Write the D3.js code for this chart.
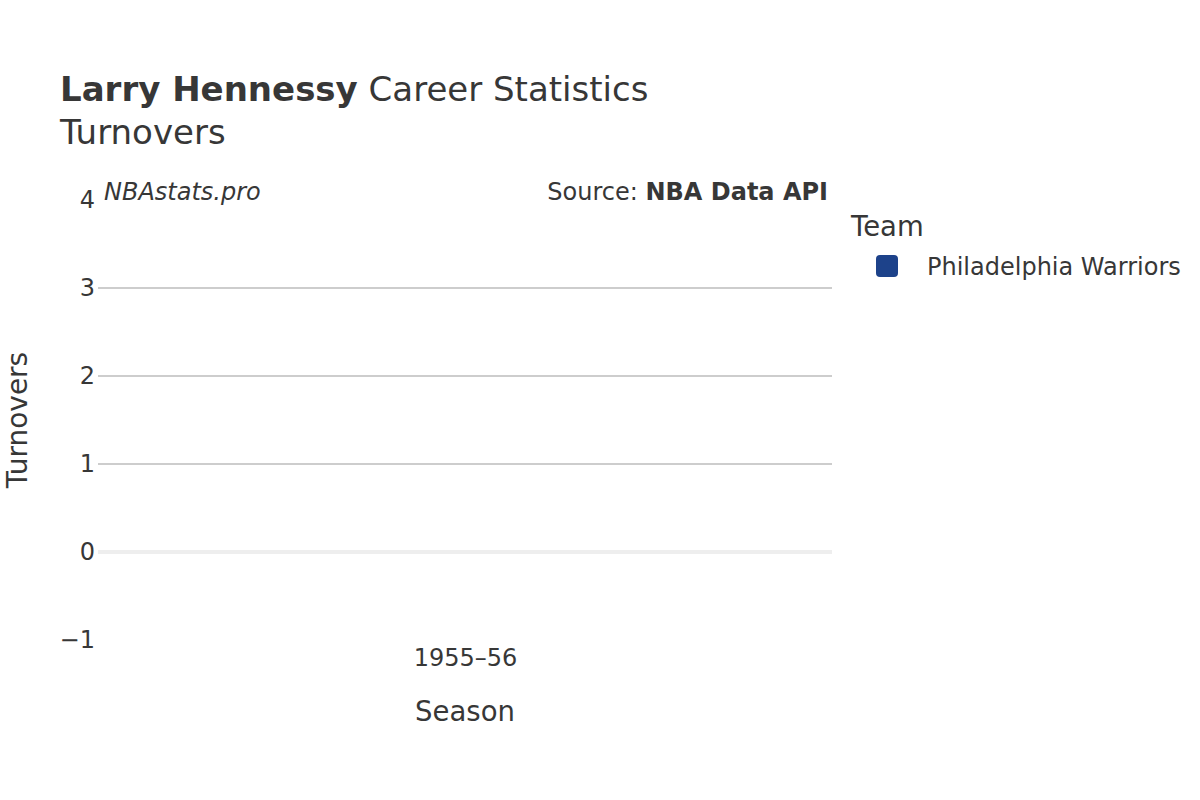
<!DOCTYPE html>
<html>
<head>
<meta charset="utf-8">
<script src="https://cdn.jsdelivr.net/npm/d3@7"></script>
<style>
  body { margin: 0; background: #fff; }
  svg text { font-family: "DejaVu Sans", sans-serif; fill: #373737; }
</style>
</head>
<body>
<svg id="chart" width="1200" height="800" viewBox="0 0 1200 800"></svg>
<script>
// turnovers per season, no turnovers recorded for this era
const seasons = ["1955–56"];
const teams = ["Philadelphia Warriors"];
const teamColors = ["#1D428A"];
const turnovers = [null];
const yTicks = [-1, 0, 1, 2, 3, 4];

(function () {
    const svg = d3.select("#chart");
    const margin = {top: 200, right: 368, bottom: 160, left: 98};
    const width = 1200 - margin.left - margin.right;
    const height = 800 - margin.top - margin.bottom;

    const x = d3.scalePoint().domain(seasons).range([0, width]).padding(0.5);
    const y = d3.scaleLinear().domain([-1, 4]).range([height, 0]);

    // titles
    const title = svg.append("text").attr("x", 60).attr("y", 101).style("font-size", "34px");
    title.append("tspan").style("font-weight", "bold").text("Larry Hennessy");
    title.append("tspan").text(" Career Statistics");
    svg.append("text").attr("x", 60).attr("y", 144).style("font-size", "34px").text("Turnovers");

    const plot = svg.append("g").attr("transform", `translate(${margin.left}, ${margin.top})`);

    // grid
    plot.selectAll(".grid")
        .data(yTicks.filter(t => t > -1 && t < 4 && t !== 0))
        .join("line")
        .attr("x1", 0).attr("x2", width)
        .attr("y1", d => y(d)).attr("y2", d => y(d))
        .style("stroke", "#bdbdbd").style("stroke-width", 1.5);

    plot.append("line")
        .attr("x1", 0).attr("x2", width)
        .attr("y1", y(0)).attr("y2", y(0))
        .style("stroke", "#eeeeee").style("stroke-width", 4);

    // y axis
    const yAxis = plot.append("g")
        .call(d3.axisLeft(y).tickValues(yTicks).tickSize(0).tickPadding(3).tickFormat(d3.format("")));
    yAxis.select(".domain").remove();
    yAxis.selectAll("text").style("font-size", "24px").style("font-family", "DejaVu Sans").style("fill", "#373737");

    // x axis
    const xAxis = plot.append("g")
        .attr("transform", `translate(0, ${height})`)
        .call(d3.axisBottom(x).tickSize(0).tickPadding(9));
    xAxis.select(".domain").remove();
    xAxis.selectAll("text").style("font-size", "24px").style("font-family", "DejaVu Sans").style("fill", "#373737");

    // bars (no values recorded)
    plot.selectAll(".bar")
        .data(seasons.map((s, i) => ({season: s, value: turnovers[i]})).filter(d => d.value != null))
        .join("rect")
        .attr("x", d => x(d.season) - 40)
        .attr("width", 80)
        .attr("y", d => y(Math.max(0, d.value)))
        .attr("height", d => Math.abs(y(d.value) - y(0)))
        .style("fill", teamColors[0]);

    // axis titles
    svg.append("text")
        .attr("x", margin.left + width / 2).attr("y", 721)
        .attr("text-anchor", "middle").style("font-size", "27.5px").text("Season");
    svg.append("text")
        .attr("transform", `translate(27, ${margin.top + height / 2}) rotate(-90)`)
        .attr("text-anchor", "middle").style("font-size", "28px").text("Turnovers");

    // watermark + source
    svg.append("text").attr("x", 104).attr("y", 200)
        .style("font-size", "24px").style("font-style", "italic").text("NBAstats.pro");
    const src = svg.append("text").attr("x", 828).attr("y", 200)
        .attr("text-anchor", "end").style("font-size", "24px");
    src.append("tspan").text("Source: ");
    src.append("tspan").style("font-weight", "bold").text("NBA Data API");

    // legend
    svg.append("text").attr("x", 851).attr("y", 236).style("font-size", "27.5px").text("Team");
    const legend = svg.selectAll(".legend-item")
        .data(teams)
        .join("g")
        .attr("transform", (d, i) => `translate(876, ${255 + i * 30})`);
    legend.append("rect")
        .attr("width", 22).attr("height", 22).attr("rx", 4)
        .style("fill", (d, i) => teamColors[i]);
    legend.append("text")
        .attr("x", 51).attr("y", 20)
        .style("font-size", "24px").text(d => d);
})();
</script>
</body>
</html>
